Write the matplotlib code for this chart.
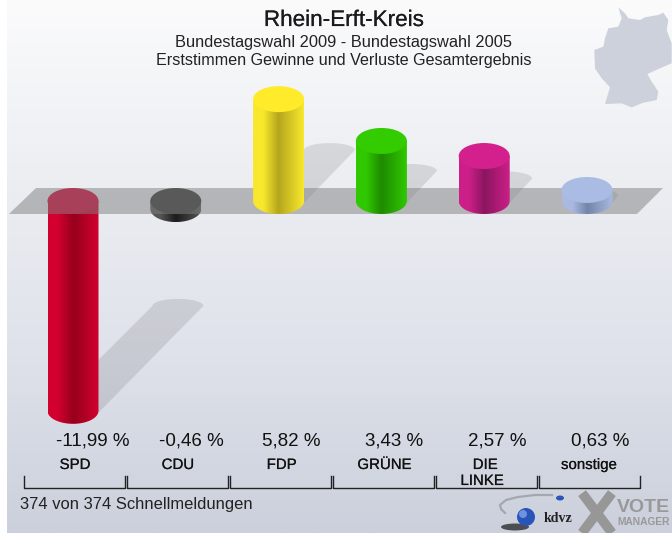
import numpy as np
import matplotlib
matplotlib.use("Agg")
import matplotlib.pyplot as plt
import matplotlib.patheffects as pe
from matplotlib.colors import LinearSegmentedColormap
from matplotlib.patches import Ellipse, Polygon, PathPatch
from matplotlib.path import Path

plt.rcParams['font.family'] = ['Liberation Sans', 'DejaVu Sans']

parteien = ["SPD", "CDU", "FDP", "GRÜNE", "DIE\nLINKE", "sonstige"]
werte = [-11.99, -0.46, 5.82, 3.43, 2.57, 0.63]
farben_deckel = ["#d00030", "#333333", "#ffeb2a", "#33cc00", "#d4208c", "#aabbe4"]
farben_rand = ["#d2002e", "#555555", "#f8e82c", "#30c800", "#cc1f88", "#a9b9e0"]
farben_mitte = ["#96001c", "#1c1c1c", "#b5a51e", "#1e8a00", "#8a1660", "#7485aa"]

# Pixel je Einheit, Nulllinie liegt bei Pixelzeile 201
px_x = 102.8
px_y = 17.5

def X(p):
    return (np.asarray(p, dtype=float) - 73) / px_x

def Y(p):
    return (201 - np.asarray(p, dtype=float)) / px_y

fig = plt.figure(figsize=(6.72, 5.33), dpi=100)
fig.patch.set_facecolor("white")
ax = fig.add_axes([0, 0, 1, 1])
ax.axis("off")

# Hintergrund
hg = LinearSegmentedColormap.from_list("hg", ["#fbfbfc", "#eceef2", "#dfe2ea", "#cbd0dc"])
ax.imshow(np.linspace(0, 1, 256).reshape(-1, 1), cmap=hg, aspect="auto",
          extent=[X(7), X(672), Y(533), Y(0)], zorder=0)

# Deutschlandkarte
karte = [(175, 22), (195, 40), (205, 55), (240, 60), (255, 52), (295, 45), (310, 38),
         (325, 60), (320, 90), (335, 130), (335, 190), (300, 205), (262, 222), (275, 245),
         (295, 275), (290, 300), (250, 308), (215, 322), (185, 310), (135, 312), (150, 262),
         (125, 235), (105, 205), (103, 150), (130, 140), (135, 115), (145, 85), (175, 80),
         (185, 55)]
ax.add_patch(Polygon([(X(560 + a / 3), Y(b / 3)) for a, b in karte], closed=True,
                     fc="#ccd1db", ec="none", zorder=1))

breite = 25.5 / px_x
ell_h = 13 / px_y
schatten_h = 7 / px_y


def schatten(i, w):
    # Schatten laeuft vom Saeulenende schraeg nach rechts oben
    h = abs(w) / 2 * px_y
    y0 = min(w, 0)
    dx = h / px_x
    dy = h / px_y
    t = np.linspace(np.pi, 0, 30)
    pts = [(i - breite, y0), (i + breite, y0 - 0.1)]
    pts += [(i + dx + breite * np.cos(a), y0 + dy + schatten_h * np.sin(a)) for a in t[::-1]]
    ax.add_patch(Polygon(pts, closed=True, fc="black", ec="none", alpha=0.1, zorder=2))


def saeule(i, w, z):
    oben = max(w, 0)
    unten = min(w, 0)
    cm = LinearSegmentedColormap.from_list(
        "s", [(0, farben_rand[i]), (0.2, farben_rand[i]), (0.5, farben_mitte[i]), (1, farben_rand[i])])
    bild = ax.imshow(np.linspace(0, 1, 128).reshape(1, -1), cmap=cm, aspect="auto",
                     extent=[i - breite, i + breite, unten - ell_h, oben], zorder=z)
    t = np.linspace(np.pi, 2 * np.pi, 40)
    rand = [(i - breite, oben)] + [(i + breite * np.cos(a), unten + ell_h * np.sin(a)) for a in t]
    rand.append((i + breite, oben))
    pfad = Path(rand + [rand[0]], closed=True)
    clip = PathPatch(pfad, transform=ax.transData, fc="none", ec="none")
    ax.add_patch(clip)
    bild.set_clip_path(clip)
    ax.add_patch(Ellipse((i, oben), 2 * breite, 2 * ell_h, fc=farben_deckel[i], ec="none",
                         zorder=z + 0.1))


for i, w in enumerate(werte):
    if abs(w) > 0.5:
        schatten(i, w)

for i, w in enumerate(werte):
    if w < 0:
        saeule(i, w, 3)

# Nullebene, halbtransparent ueber den negativen Saeulen
ax.add_patch(Polygon([(X(36), Y(188)), (X(663), Y(188)), (X(637), Y(214)), (X(9), Y(214))],
                     closed=True, fc="#808080", ec="none", alpha=0.5, zorder=4))

for i, w in enumerate(werte):
    if w >= 0:
        saeule(i, w, 5)

ax.set_xlim(X(0), X(672))
ax.set_ylim(Y(533), Y(0))

fett = [pe.withStroke(linewidth=0.15, foreground="#333333")]

# Titel
ax.text(X(344), Y(20.5), "Rhein-Erft-Kreis", ha="center", va="center", fontsize=16.2,
        color="#1a1a1a", zorder=8, path_effects=fett)
ax.text(X(343), Y(42), "Bundestagswahl 2009 - Bundestagswahl 2005", ha="center", va="center",
        fontsize=11.8, color="#222222", zorder=8)
ax.text(X(343.5), Y(61), "Erststimmen Gewinne und Verluste Gesamtergebnis", ha="center", va="center",
        fontsize=11.6, color="#222222", zorder=8)

# Werte und Parteien
for i, w in enumerate(werte):
    txt = f"{w:.2f} %".replace(".", ",")
    ax.text(X(56 + 103 * i), Y(441), txt, ha="left", va="center", fontsize=13.5, color="#111111", zorder=8)

    teile = parteien[i].split("\n")
    ax.text(i + [0.01, 0.01, 0.02, 0.02, 0.0, 0.02][i] + (0.01 if i < 5 else 0), Y(465), teile[0],
            ha="center", va="center", fontsize=10.8, color="#111111", zorder=8, path_effects=fett)
    if len(teile) > 1:
        ax.text(i - 0.02, Y(481), teile[1], ha="center", va="center", fontsize=10.8,
                color="#111111", zorder=8, path_effects=fett)

    # Klammer unter jeder Partei
    l = X(24 + 103 * i)
    r = X(125 + 103 * i)
    ax.plot([l, l, r, r], [Y(476), Y(487.5), Y(487.5), Y(476)], color="#222222", lw=1, zorder=7)

ax.text(X(20), Y(505), "374 von 374 Schnellmeldungen", ha="left", va="center", fontsize=11.9,
        color="#222222", zorder=8)

# Logos
bogen_x = [552, 535, 518, 506, 500, 501, 505]
bogen_y = [495, 495, 497, 500, 505, 509, 513]
ax.plot(X(bogen_x), Y(bogen_y), color="#a3a7b0", lw=1.6, zorder=6)
ax.add_patch(Ellipse((X(515), Y(527)), 28 / px_x, 7 / px_y, fc="#222222", ec="none", alpha=0.75, zorder=6))
ax.add_patch(Ellipse((X(526), Y(517)), 18 / px_x, 18 / px_y, fc="#2a55b8", ec="none", zorder=7))
ax.add_patch(Ellipse((X(523), Y(514)), 8 / px_x, 8 / px_y, fc="#6f93e0", ec="none", zorder=7.1))
ax.add_patch(Ellipse((X(560), Y(498)), 8 / px_x, 5 / px_y, fc="#2a55b8", ec="none", zorder=7))
ax.text(X(558), Y(518), "kdvz", ha="center", va="center", fontsize=10, family="Liberation Serif",
        fontweight="bold", color="#222222", zorder=7)
ax.plot(X([585, 609]), Y([529, 497]), color="#979797", lw=7, zorder=6)
ax.plot(X([585, 609]), Y([497, 529]), color="#979797", lw=7, zorder=6)
ax.text(X(617), Y(508), "VOTE", ha="left", va="center", fontsize=14, fontweight="bold",
        color="#999999", zorder=7)
ax.text(X(617), Y(522), "MANAGER", ha="left", va="center", fontsize=7.4, fontweight="bold",
        color="#999999", zorder=7)

plt.savefig("out.png", dpi=100)
plt.close()
